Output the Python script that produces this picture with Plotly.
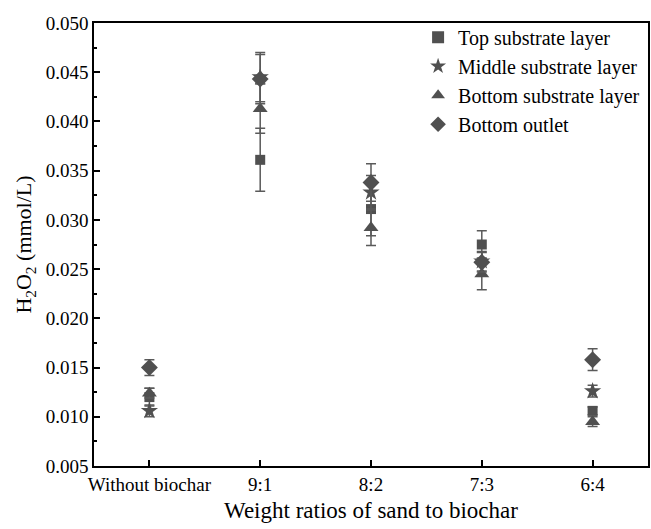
import plotly.graph_objects as go

# Sand-to-biochar weight ratios (x categories)
ratios = ["Without biochar", "9:1", "8:2", "7:3", "6:4"]

# H2O2 concentration (mmol/L) and standard deviations for each sampling point
top_layer = [0.0120, 0.0361, 0.0311, 0.0275, 0.0106]
top_err = [0.0009, 0.0032, 0.0027, 0.0014, 0.0004]

middle_layer = [0.0106, 0.0445, 0.0328, 0.0258, 0.0126]
middle_err = [0.0006, 0.0025, 0.0017, 0.0010, 0.0006]

bottom_layer = [0.0124, 0.0413, 0.0292, 0.0245, 0.0095]
bottom_err = [0.0005, 0.0025, 0.0018, 0.0016, 0.0005]

outlet = [0.0150, 0.0443, 0.0338, 0.0257, 0.0158]
outlet_err = [0.0008, 0.0025, 0.0019, 0.0010, 0.0011]

series = [
    ("Top substrate layer", top_layer, top_err, "square", 10),
    ("Middle substrate layer", middle_layer, middle_err, "star", 13),
    ("Bottom substrate layer", bottom_layer, bottom_err, "triangle-up", 13),
    ("Bottom outlet", outlet, outlet_err, "diamond", 13),
]

MARK = "#505050"
FONT = "Liberation Serif"

fig = go.Figure()
for name, vals, errs, sym, size in series:
    fig.add_trace(go.Scatter(
        x=ratios, y=vals, name=name, mode="markers",
        marker=dict(symbol=sym, size=size, color=MARK, line=dict(width=0)),
        error_y=dict(type="data", array=errs, visible=True,
                     color="#5a5a5a", thickness=1.5, width=5),
    ))

fig.update_layout(
    width=651, height=529,
    margin=dict(l=94, r=1, t=23, b=63),
    paper_bgcolor="white", plot_bgcolor="white",
    font=dict(family=FONT, size=19, color="black"),
    showlegend=True,
    legend=dict(x=0.585, y=1.012, xanchor="left", yanchor="top",
                bgcolor="rgba(0,0,0,0)", borderwidth=0,
                font=dict(family=FONT, size=20),
                tracegroupgap=0, itemsizing="constant"),
    xaxis=dict(
        type="category", range=[-0.5, 4.5],
        showline=True, linecolor="black", linewidth=1.5, mirror=True,
        ticks="inside", ticklen=6, tickcolor="black", tickwidth=1.5,
        showgrid=False, zeroline=False,
        title=dict(text="Weight ratios of sand to biochar", standoff=8,
                   font=dict(family=FONT, size=23)),
    ),
    yaxis=dict(
        range=[0.005, 0.050], dtick=0.005, tick0=0.005, tickformat=".3f",
        showline=True, linecolor="black", linewidth=1.5, mirror=True,
        ticks="inside", ticklen=6, tickcolor="black", tickwidth=1.5,
        minor=dict(dtick=0.0025, ticks="inside", ticklen=3,
                   tickcolor="black", tickwidth=1.5),
        showgrid=False, zeroline=False,
        title=dict(text="H<sub>2</sub>O<sub>2</sub> (mmol/L)", standoff=8,
                   font=dict(family=FONT, size=22)),
    ),
)

fig.write_html("out.html")
